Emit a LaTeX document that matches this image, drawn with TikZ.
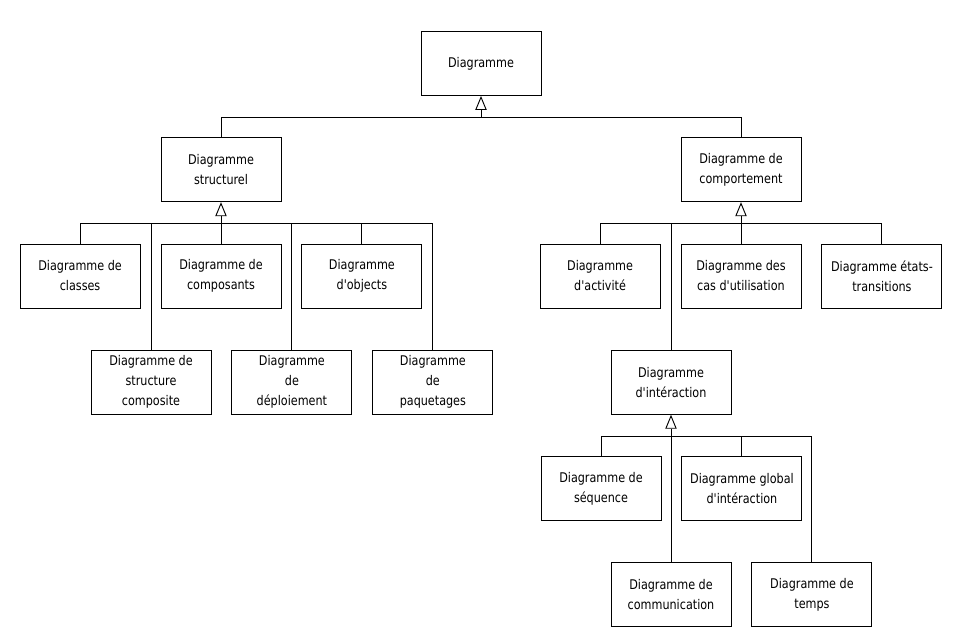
\documentclass[tikz,border=0pt]{standalone}
\usepackage{fontspec}
\setmainfont{DejaVu Sans}[FakeStretch=0.84, Ligatures=TeXOff]
\usetikzlibrary{positioning,arrows.meta}

\begin{document}
\begin{tikzpicture}[auto, node distance=31pt and 15pt, line width=0.7pt,
  box/.style={draw, rectangle, minimum width=90pt, minimum height=48pt, align=center,
    font=\fontsize{10}{15}\selectfont},
  gen/.style={-{Triangle[open,length=10.5pt,width=8.5pt]}}]

  \useasboundingbox (-360.75pt,-426.4pt) rectangle (360.75pt,47.6pt);

  \node [box] (diag) {Diagramme};
  \node [box, below=of diag, xshift=-195pt] (struct) {Diagramme\\structurel};
  \node [box, below=of diag, xshift=195pt] (behav) {Diagramme de\\comportement};

  \node [box, below=of struct] (compo) {Diagramme de\\composants};
  \node [box, left=of compo] (classes) {Diagramme de\\classes};
  \node [box, right=of compo] (objects) {Diagramme\\d'objects};
  \node [box, below=of compo, xshift=-52.5pt] (composite) {Diagramme de\\structure\\composite};
  \node [box, right=of composite] (deploy) {Diagramme\\de\\déploiement};
  \node [box, right=of deploy] (package) {Diagramme\\de\\paquetages};

  \node [box, below=of behav] (usecase) {Diagramme des\\cas d'utilisation};
  \node [box, left=of usecase] (activity) {Diagramme\\d'activité};
  \node [box, right=of usecase] (states) {Diagramme états-\\transitions};
  \node [box, below=of usecase, xshift=-52.5pt] (interact) {Diagramme\\d'intéraction};

  \node [box, below=of interact, xshift=-52.5pt] (sequence) {Diagramme de\\séquence};
  \node [box, right=of sequence] (overview) {Diagramme global\\d'intéraction};
  \node [box, below=of sequence, xshift=52.5pt] (communic) {Diagramme de\\communication};
  \node [box, right=of communic] (timing) {Diagramme de\\temps};

  \coordinate (diagbus) at ([yshift=-16pt]diag.south);
  \coordinate (structbus) at ([yshift=-16pt]struct.south);
  \coordinate (behavbus) at ([yshift=-16pt]behav.south);
  \coordinate (interbus) at ([yshift=-16pt]interact.south);

  \draw[gen] (diagbus) -- (diag.south);
  \draw (struct.north) |- (diagbus);
  \draw (behav.north) |- (diagbus);

  \draw[gen] (structbus) -- (struct.south);
  \foreach \n in {classes,compo,objects,composite,deploy,package}
    \draw (\n.north) |- (structbus);

  \draw[gen] (behavbus) -- (behav.south);
  \foreach \n in {activity,usecase,states,interact}
    \draw (\n.north) |- (behavbus);

  \draw[gen] (interbus) -- (interact.south);
  \foreach \n in {sequence,overview,communic,timing}
    \draw (\n.north) |- (interbus);
\end{tikzpicture}
\end{document}
